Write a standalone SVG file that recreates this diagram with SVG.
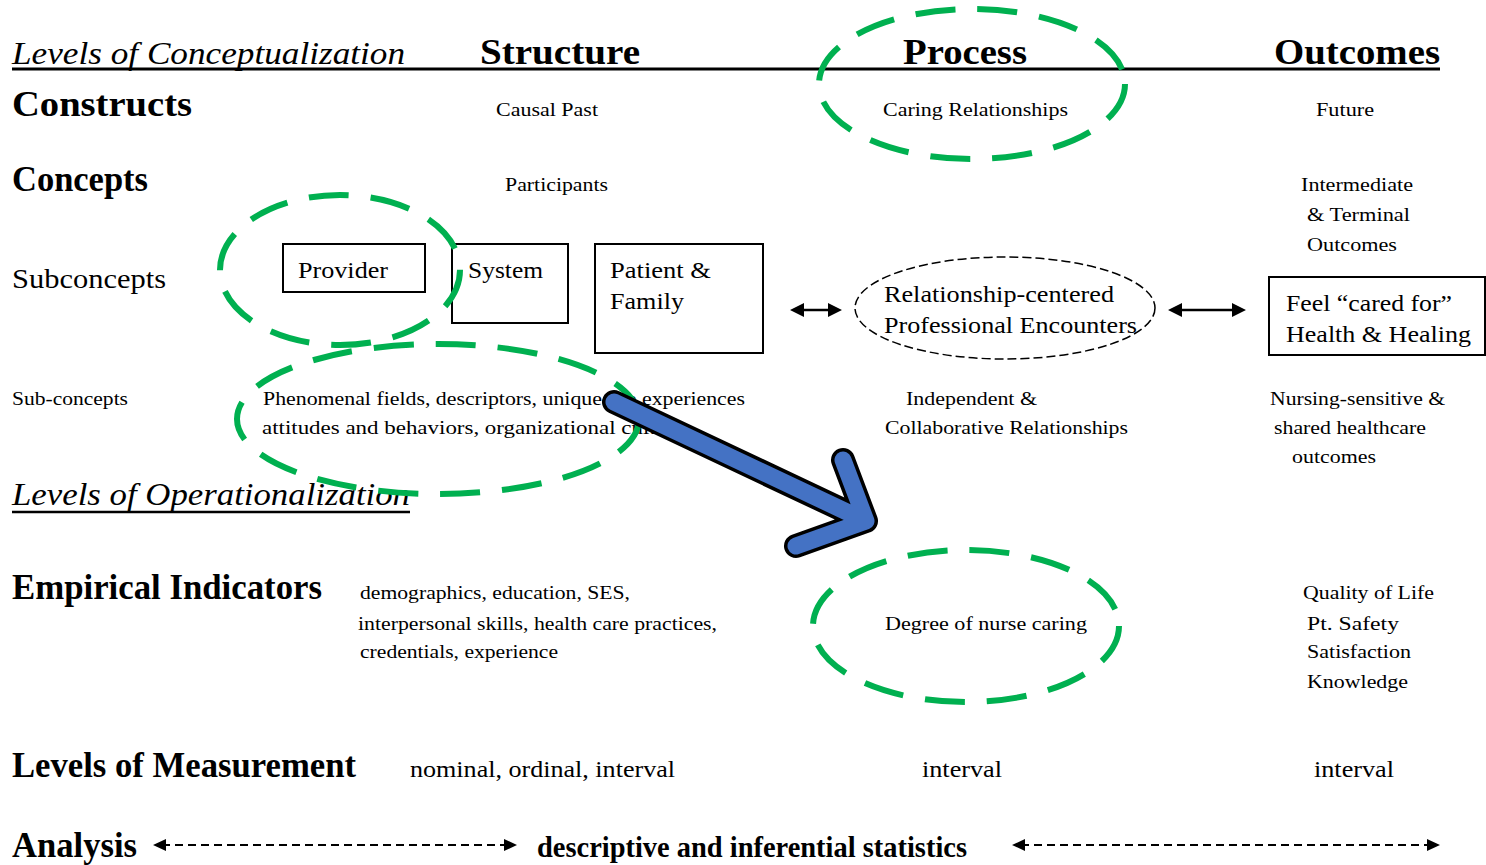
<svg xmlns="http://www.w3.org/2000/svg" width="1486" height="865" viewBox="0 0 1486 865">
<defs>
<style>
text{font-family:"Liberation Serif","Times New Roman",serif;fill:#000}
.h{font-size:36px;font-weight:bold}
.it{font-size:31px;font-style:italic}
.s{font-size:19px}
.m{font-size:24px}
.box{fill:#fff;stroke:#000;stroke-width:2}
.green{fill:none;stroke:#00B050;stroke-width:6;stroke-dasharray:40 22}
.thin{stroke:#000;stroke-width:2.5;fill:none}
.dash{stroke:#000;stroke-width:2;fill:none;stroke-dasharray:8 5}
.head{fill:#000}
</style>
</defs>
<rect width="1486" height="865" fill="#fff"/>

<g id="header">
<text class="it" x="12" y="64" textLength="393" lengthAdjust="spacingAndGlyphs">Levels of Conceptualization</text>
<text class="h" x="480" y="64" textLength="160" lengthAdjust="spacingAndGlyphs">Structure</text>
<text class="h" x="903" y="64" textLength="124" lengthAdjust="spacingAndGlyphs">Process</text>
<text class="h" x="1274" y="64" textLength="166" lengthAdjust="spacingAndGlyphs">Outcomes</text>
<line x1="12" y1="69" x2="1440" y2="69" stroke="#000" stroke-width="3"/>
</g>

<g id="row-constructs">
<text class="h" x="12" y="116" textLength="180" lengthAdjust="spacingAndGlyphs">Constructs</text>
<text class="s" x="496" y="116" textLength="102" lengthAdjust="spacingAndGlyphs">Causal Past</text>
<text class="s" x="883" y="116" textLength="185" lengthAdjust="spacingAndGlyphs">Caring Relationships</text>
<text class="s" x="1316" y="116" textLength="58" lengthAdjust="spacingAndGlyphs">Future</text>
</g>

<g id="row-concepts">
<text class="h" x="12" y="191" font-size="34" textLength="136" lengthAdjust="spacingAndGlyphs">Concepts</text>
<text class="s" x="505" y="191" textLength="103" lengthAdjust="spacingAndGlyphs">Participants</text>
<text class="s" x="1301" y="191" textLength="112" lengthAdjust="spacingAndGlyphs">Intermediate</text>
<text class="s" x="1307" y="221" textLength="103" lengthAdjust="spacingAndGlyphs">&amp; Terminal</text>
<text class="s" x="1307" y="251" textLength="90" lengthAdjust="spacingAndGlyphs">Outcomes</text>
</g>

<g id="subconcepts-label">
<text x="12" y="288" font-size="27" textLength="154" lengthAdjust="spacingAndGlyphs">Subconcepts</text>
</g>

<g id="provider">
<rect class="box" x="283" y="244" width="142" height="48"/>
<text class="m" x="298" y="278" textLength="90" lengthAdjust="spacingAndGlyphs">Provider</text>
</g>
<g id="system">
<rect class="box" x="452" y="244" width="116" height="79"/>
<text class="m" x="468" y="278" textLength="75" lengthAdjust="spacingAndGlyphs">System</text>
</g>
<g id="patient-family">
<rect class="box" x="595" y="244" width="168" height="109"/>
<text class="m" x="610" y="278" textLength="101" lengthAdjust="spacingAndGlyphs">Patient &amp;</text>
<text class="m" x="610" y="309" textLength="74" lengthAdjust="spacingAndGlyphs">Family</text>
</g>
<g id="encounters">
<ellipse cx="1005" cy="308" rx="150" ry="51" fill="none" stroke="#000" stroke-width="1.5" stroke-dasharray="9 4"/>
<text class="m" x="884" y="302" textLength="230" lengthAdjust="spacingAndGlyphs">Relationship-centered</text>
<text class="m" x="884" y="333" textLength="253" lengthAdjust="spacingAndGlyphs">Professional Encounters</text>
</g>
<g id="feel-cared">
<rect class="box" x="1269" y="277" width="216" height="78"/>
<text class="m" x="1286" y="311" textLength="166" lengthAdjust="spacingAndGlyphs">Feel “cared for”</text>
<text class="m" x="1286" y="342" textLength="185" lengthAdjust="spacingAndGlyphs">Health &amp; Healing</text>
</g>

<g id="row-subconcepts2">
<text class="s" x="12" y="405" textLength="116" lengthAdjust="spacingAndGlyphs">Sub-concepts</text>
<text class="s" x="263" y="405" textLength="482" lengthAdjust="spacingAndGlyphs">Phenomenal fields, descriptors, unique life experiences</text>
<text class="s" x="262" y="434" textLength="423" lengthAdjust="spacingAndGlyphs">attitudes and behaviors, organizational culture</text>
<text class="s" x="906" y="405" textLength="131" lengthAdjust="spacingAndGlyphs">Independent &amp;</text>
<text class="s" x="885" y="434" textLength="243" lengthAdjust="spacingAndGlyphs">Collaborative Relationships</text>
<text class="s" x="1270" y="405" textLength="175" lengthAdjust="spacingAndGlyphs">Nursing-sensitive &amp;</text>
<text class="s" x="1274" y="434" textLength="152" lengthAdjust="spacingAndGlyphs">shared healthcare</text>
<text class="s" x="1292" y="463" textLength="84" lengthAdjust="spacingAndGlyphs">outcomes</text>
</g>

<g id="operationalization">
<text class="it" x="12" y="505" textLength="398" lengthAdjust="spacingAndGlyphs">Levels of Operationalization</text>
<line x1="12" y1="512" x2="410" y2="512" stroke="#000" stroke-width="2.5"/>
</g>

<g id="row-empirical">
<text class="h" x="12" y="599" font-size="34" textLength="310" lengthAdjust="spacingAndGlyphs">Empirical Indicators</text>
<text class="s" x="360" y="599" textLength="270" lengthAdjust="spacingAndGlyphs">demographics, education, SES,</text>
<text class="s" x="358" y="630" textLength="359" lengthAdjust="spacingAndGlyphs">interpersonal skills, health care practices,</text>
<text class="s" x="360" y="658" textLength="198" lengthAdjust="spacingAndGlyphs">credentials, experience</text>
<text class="s" x="885" y="630" textLength="202" lengthAdjust="spacingAndGlyphs">Degree of nurse caring</text>
<text class="s" x="1303" y="599" textLength="131" lengthAdjust="spacingAndGlyphs">Quality of Life</text>
<text class="s" x="1307" y="630" textLength="92" lengthAdjust="spacingAndGlyphs">Pt. Safety</text>
<text class="s" x="1307" y="658" textLength="104" lengthAdjust="spacingAndGlyphs">Satisfaction</text>
<text class="s" x="1307" y="688" textLength="101" lengthAdjust="spacingAndGlyphs">Knowledge</text>
</g>

<g id="row-measurement">
<text class="h" x="12" y="777" font-size="34" textLength="344" lengthAdjust="spacingAndGlyphs">Levels of Measurement</text>
<text x="410" y="777" font-size="23" textLength="265" lengthAdjust="spacingAndGlyphs">nominal, ordinal, interval</text>
<text x="922" y="777" font-size="23" textLength="80" lengthAdjust="spacingAndGlyphs">interval</text>
<text x="1314" y="777" font-size="23" textLength="80" lengthAdjust="spacingAndGlyphs">interval</text>
</g>

<g id="row-analysis">
<text class="h" x="12" y="857" font-size="32" textLength="125" lengthAdjust="spacingAndGlyphs">Analysis</text>
<text x="537" y="857" font-size="29" font-weight="bold" textLength="430" lengthAdjust="spacingAndGlyphs">descriptive and inferential statistics</text>
</g>

<g id="connectors">
<line class="thin" x1="800" y1="310" x2="832" y2="310"/>
<path class="head" d="M790,310 L804,303 L804,317 Z M842,310 L828,303 L828,317 Z"/>
<line class="thin" x1="1178" y1="310" x2="1236" y2="310"/>
<path class="head" d="M1168,310 L1182,303 L1182,317 Z M1246,310 L1232,303 L1232,317 Z"/>
<line class="dash" x1="162" y1="845" x2="508" y2="845"/>
<path class="head" d="M153,845 L166,839 L166,851 Z M517,845 L504,839 L504,851 Z"/>
<line class="dash" x1="1021" y1="845" x2="1431" y2="845"/>
<path class="head" d="M1012,845 L1025,839 L1025,851 Z M1440,845 L1427,839 L1427,851 Z"/>
</g>

<g id="highlights">
<ellipse class="green" cx="972" cy="84" rx="153" ry="75"/>
<ellipse class="green" cx="340" cy="270" rx="120" ry="75"/>
<ellipse class="green" cx="438" cy="419" rx="201" ry="75"/>
<ellipse class="green" cx="966" cy="626" rx="153" ry="76"/>
</g>

<g id="blue-arrow" fill="none" stroke-linecap="round" stroke-linejoin="round">
<path d="M614,402 L866,521 M843,460 L866,521 L796,546" stroke="#000" stroke-width="24"/>
<path d="M614,402 L866,521 M843,460 L866,521 L796,546" stroke="#4472C4" stroke-width="17"/>
</g>
</svg>
